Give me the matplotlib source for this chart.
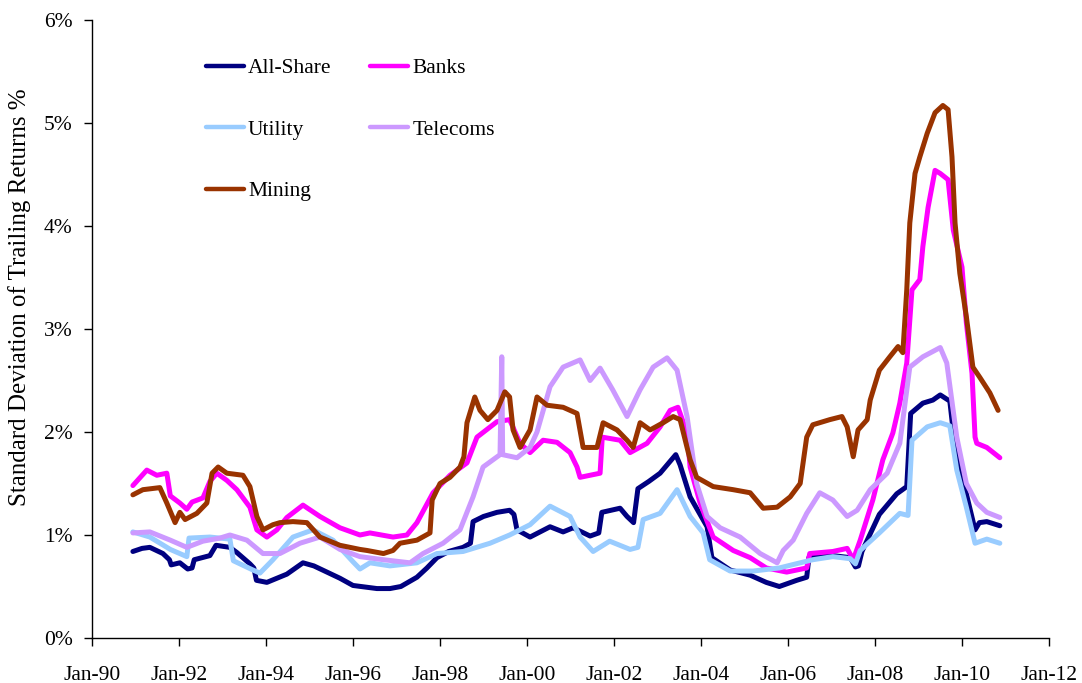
import matplotlib
matplotlib.use("Agg")
import matplotlib.pyplot as plt

plt.rcParams['font.family'] = ['Liberation Serif', 'DejaVu Serif']

# ---- data (decimal years, % values) ----
allshare_t = [1990.94, 1991.15, 1991.33, 1991.63, 1991.78, 1991.82, 1992.02, 1992.2, 1992.3, 1992.35,
              1992.71, 1992.85, 1993.17, 1993.33, 1993.63, 1993.72, 1993.78, 1994.02, 1994.48, 1994.85,
              1995.1, 1995.4, 1995.7, 1996.0, 1996.55, 1996.85, 1997.1, 1997.47, 1997.7, 1997.93,
              1998.2, 1998.53, 1998.7, 1998.76, 1999.0, 1999.31, 1999.6, 1999.7, 1999.77, 2000.07,
              2000.53, 2000.83, 2001.06, 2001.45, 2001.65, 2001.72, 2002.14, 2002.3, 2002.45, 2002.55,
              2002.8, 2003.06, 2003.3, 2003.42, 2003.52, 2003.75, 2004.14, 2004.25, 2004.67, 2005.13,
              2005.5, 2005.8, 2006.2, 2006.43, 2006.48, 2007.03, 2007.43, 2007.55, 2007.62, 2007.7,
              2008.1, 2008.5, 2008.73, 2008.82, 2009.1, 2009.33, 2009.5, 2009.72, 2009.8, 2009.88,
              2010.1, 2010.3, 2010.4, 2010.57, 2010.87]
allshare_v = [0.84, 0.87, 0.88, 0.82, 0.76, 0.71, 0.73, 0.67, 0.68, 0.76,
              0.80, 0.90, 0.88, 0.83, 0.72, 0.68, 0.56, 0.54, 0.62, 0.73,
              0.70, 0.64, 0.58, 0.51, 0.48, 0.48, 0.50, 0.59, 0.68, 0.78,
              0.84, 0.88, 0.92, 1.13, 1.18, 1.22, 1.24, 1.20, 1.05, 0.98,
              1.08, 1.03, 1.07, 0.99, 1.02, 1.22, 1.26, 1.18, 1.12, 1.45,
              1.52, 1.60, 1.72, 1.78, 1.68, 1.37, 1.08, 0.78, 0.66, 0.61,
              0.54, 0.50, 0.56, 0.59, 0.78, 0.80, 0.78, 0.69, 0.70, 0.84,
              1.20, 1.40, 1.47, 2.18, 2.28, 2.31, 2.36, 2.30, 2.00, 1.80,
              1.40, 1.05, 1.12, 1.13, 1.09]

banks_t = [1990.94, 1991.26, 1991.49, 1991.72, 1991.8, 1992.02, 1992.18, 1992.3, 1992.55, 1992.71,
           1992.87, 1993.1, 1993.33, 1993.63, 1993.79, 1994.02, 1994.25, 1994.48, 1994.85, 1995.24,
           1995.7, 1996.16, 1996.39, 1996.92, 1997.24, 1997.47, 1997.84, 1998.23, 1998.62, 1998.85,
           1999.31, 1999.6, 1999.84, 2000.07, 2000.37, 2000.69, 2000.99, 2001.15, 2001.22, 2001.68,
           2001.73, 2002.14, 2002.37, 2002.76, 2003.06, 2003.29, 2003.47, 2003.68, 2003.75, 2003.98,
           2004.28, 2004.74, 2005.13, 2005.5, 2005.97, 2006.43, 2006.5, 2007.03, 2007.36, 2007.5,
           2007.66, 2007.95, 2008.18, 2008.41, 2008.57, 2008.73, 2008.85, 2009.03, 2009.1, 2009.22,
           2009.38, 2009.5, 2009.68, 2009.8, 2010.0, 2010.1, 2010.23, 2010.3, 2010.34, 2010.57,
           2010.87]
banks_v = [1.48, 1.63, 1.58, 1.60, 1.38, 1.31, 1.25, 1.32, 1.36, 1.52,
           1.60, 1.53, 1.44, 1.27, 1.05, 0.98, 1.05, 1.17, 1.29, 1.18,
           1.07, 1.00, 1.02, 0.98, 1.00, 1.12, 1.41, 1.58, 1.70, 1.95,
           2.10, 2.12, 1.89, 1.80, 1.92, 1.90, 1.80, 1.66, 1.56, 1.60,
           1.95, 1.92, 1.80, 1.89, 2.05, 2.21, 2.24, 1.99, 1.66, 1.31,
           0.98, 0.85, 0.78, 0.68, 0.64, 0.68, 0.82, 0.84, 0.87, 0.76,
           0.95, 1.34, 1.73, 1.99, 2.28, 2.67, 3.38, 3.48, 3.80, 4.18,
           4.54, 4.51, 4.45, 3.96, 3.60, 3.06, 2.57, 1.95, 1.89, 1.85,
           1.75]

utility_t = [1990.94, 1991.33, 1991.8, 1992.18, 1992.23, 1992.71, 1993.17, 1993.25, 1993.7, 1993.86,
             1994.16, 1994.62, 1995.08, 1995.54, 1996.0, 1996.16, 1996.39, 1996.85, 1997.47, 1997.93,
             1998.53, 1999.15, 1999.6, 2000.07, 2000.53, 2000.99, 2001.22, 2001.52, 2001.9, 2002.37,
             2002.55, 2002.67, 2003.06, 2003.45, 2003.75, 2004.05, 2004.2, 2004.67, 2005.2, 2005.8,
             2006.28, 2006.57, 2007.03, 2007.43, 2007.55, 2007.66, 2008.1, 2008.57, 2008.76, 2008.85,
             2009.2, 2009.5, 2009.72, 2009.88, 2010.1, 2010.3, 2010.57, 2010.87]
utility_v = [1.03, 0.98, 0.86, 0.79, 0.97, 0.98, 0.96, 0.75, 0.66, 0.63,
             0.76, 0.98, 1.05, 0.95, 0.74, 0.67, 0.73, 0.70, 0.73, 0.82,
             0.84, 0.92, 1.00, 1.10, 1.28, 1.18, 0.98, 0.84, 0.94, 0.86,
             0.88, 1.15, 1.21, 1.44, 1.18, 1.02, 0.76, 0.65, 0.65, 0.68,
             0.73, 0.76, 0.79, 0.77, 0.72, 0.85, 1.02, 1.21, 1.19, 1.92,
             2.05, 2.09, 2.06, 1.63, 1.27, 0.92, 0.96, 0.92]

telecoms_t = [1990.94, 1991.33, 1991.8, 1992.18, 1992.55, 1992.94, 1993.17, 1993.56, 1993.93, 1994.32,
              1994.78, 1995.24, 1995.7, 1996.16, 1996.7, 1997.31, 1997.61, 1998.07, 1998.46, 1998.76,
              1998.99, 1999.38, 1999.42, 1999.44, 1999.77, 2000.07, 2000.23, 2000.53, 2000.83, 2001.22,
              2001.45, 2001.68, 2001.97, 2002.3, 2002.6, 2002.9, 2003.22, 2003.45, 2003.68, 2003.9,
              2004.14, 2004.44, 2004.9, 2005.36, 2005.75, 2005.89, 2006.12, 2006.43, 2006.73, 2007.03,
              2007.36, 2007.59, 2007.89, 2008.28, 2008.57, 2008.8, 2009.1, 2009.5, 2009.65, 2009.88,
              2010.1, 2010.34, 2010.57, 2010.87]
telecoms_v = [1.02, 1.03, 0.95, 0.88, 0.94, 0.97, 1.00, 0.95, 0.82, 0.82,
              0.92, 0.98, 0.86, 0.79, 0.76, 0.73, 0.82, 0.92, 1.05, 1.37,
              1.66, 1.78, 2.73, 1.78, 1.75, 1.85, 2.00, 2.44, 2.63, 2.70,
              2.50, 2.62, 2.41, 2.15, 2.41, 2.63, 2.72, 2.60, 2.15, 1.50,
              1.18, 1.07, 0.98, 0.82, 0.73, 0.85, 0.95, 1.21, 1.41, 1.34,
              1.18, 1.24, 1.44, 1.60, 1.89, 2.63, 2.73, 2.82, 2.67, 1.95,
              1.50, 1.31, 1.22, 1.17]

mining_t = [1990.94, 1991.17, 1991.56, 1991.72, 1991.91, 1992.02, 1992.14, 1992.41, 1992.64, 1992.76,
            1992.9, 1993.1, 1993.47, 1993.63, 1993.79, 1993.93, 1994.16, 1994.32, 1994.62, 1994.94,
            1995.24, 1995.7, 1996.16, 1996.32, 1996.7, 1996.92, 1997.08, 1997.47, 1997.77, 1997.82,
            1998.0, 1998.23, 1998.46, 1998.55, 1998.62, 1998.8, 1998.92, 1999.1, 1999.31, 1999.49,
            1999.6, 1999.68, 1999.84, 2000.07, 2000.23, 2000.46, 2000.83, 2001.15, 2001.29, 2001.61,
            2001.75, 2002.07, 2002.3, 2002.44, 2002.6, 2002.83, 2003.13, 2003.36, 2003.52, 2003.75,
            2003.9, 2004.28, 2004.74, 2005.13, 2005.43, 2005.75, 2006.05, 2006.28, 2006.43, 2006.57,
            2006.96, 2007.24, 2007.36, 2007.5, 2007.61, 2007.82, 2007.89, 2008.1, 2008.34, 2008.53,
            2008.64, 2008.73, 2008.8, 2008.92, 2009.03, 2009.2, 2009.38, 2009.56, 2009.68, 2009.77,
            2009.84, 2009.95, 2010.1, 2010.25, 2010.41, 2010.64, 2010.83]
mining_v = [1.39, 1.44, 1.46, 1.31, 1.12, 1.22, 1.15, 1.21, 1.31, 1.60,
            1.66, 1.60, 1.58, 1.47, 1.18, 1.05, 1.10, 1.12, 1.13, 1.12,
            0.98, 0.90, 0.86, 0.85, 0.82, 0.85, 0.92, 0.95, 1.02, 1.34,
            1.50, 1.56, 1.66, 1.76, 2.09, 2.34, 2.21, 2.12, 2.21, 2.39,
            2.34, 2.02, 1.85, 2.02, 2.34, 2.26, 2.24, 2.18, 1.85, 1.85,
            2.09, 2.02, 1.92, 1.85, 2.09, 2.02, 2.09, 2.15, 2.12, 1.73,
            1.56, 1.47, 1.44, 1.41, 1.26, 1.27, 1.37, 1.50, 1.95, 2.07,
            2.12, 2.15, 2.05, 1.76, 2.02, 2.12, 2.31, 2.60, 2.73, 2.83,
            2.77, 3.38, 4.03, 4.51, 4.67, 4.90, 5.10, 5.17, 5.13, 4.67,
            4.03, 3.54, 3.12, 2.63, 2.53, 2.38, 2.21]

series_names = ['All-Share', 'Banks', 'Utility', 'Telecoms', 'Mining']
xtick_years = [1990, 1992, 1994, 1996, 1998, 2000, 2002, 2004, 2006, 2008, 2010, 2012]
xtick_labels = ['Jan-90', 'Jan-92', 'Jan-94', 'Jan-96', 'Jan-98', 'Jan-00',
                'Jan-02', 'Jan-04', 'Jan-06', 'Jan-08', 'Jan-10', 'Jan-12']
ytick_vals = [0, 1, 2, 3, 4, 5, 6]
ytick_labels = ['0%', '1%', '2%', '3%', '4%', '5%', '6%']

colors = {'All-Share': '#000080', 'Banks': '#FF00FF', 'Utility': '#99CCFF',
          'Telecoms': '#CC99FF', 'Mining': '#993300'}
data = {'All-Share': (allshare_t, allshare_v), 'Banks': (banks_t, banks_v),
        'Utility': (utility_t, utility_v), 'Telecoms': (telecoms_t, telecoms_v),
        'Mining': (mining_t, mining_v)}

W, H = 1082, 683
fig = plt.figure(figsize=(W / 100, H / 100), dpi=100)
ax = fig.add_axes([92 / W, 1 - 638 / H, (1049 - 92) / W, (638 - 20) / H])

handles = {}
for name in series_names:
    t, v = data[name]
    ln, = ax.plot(t, v, color=colors[name], lw=3.6, solid_joinstyle='round',
                  solid_capstyle='round', label=name)
    handles[name] = ln

ax.set_xlim(1990, 2012)
ax.set_ylim(0, 6)
ax.set_xticks(xtick_years)
ax.set_xticklabels(xtick_labels)
ax.set_yticks(ytick_vals)
ax.set_yticklabels(ytick_labels)

FS = 15.5
ax.tick_params(axis='x', direction='out', length=6, width=1, pad=14, labelsize=FS, colors='black')
ax.tick_params(axis='y', direction='out', length=6, width=1, pad=8, labelsize=FS, colors='black')
for s in ['top', 'right']:
    ax.spines[s].set_visible(False)
for s in ['left', 'bottom']:
    ax.spines[s].set_linewidth(1)
    ax.spines[s].set_color('black')

fig.text(20 / W, 1 - 297 / H, 'Standard Deviation of Trailing Returns %', rotation=90,
         ha='center', va='center', fontsize=18)

order = ['All-Share', 'Utility', 'Mining', 'Banks', 'Telecoms']
leg = fig.legend([handles[n] for n in order], order, loc='upper left',
                 bbox_to_anchor=(206 / W, 1 - 58 / H), ncol=2, frameon=False,
                 fontsize=FS, handlelength=1.75, handletextpad=0.2,
                 labelspacing=1.93, columnspacing=1.8, borderpad=0, borderaxespad=0)
for lh in leg.get_lines():
    lh.set_linewidth(3.2)

fig.savefig('out.png', dpi=100)
